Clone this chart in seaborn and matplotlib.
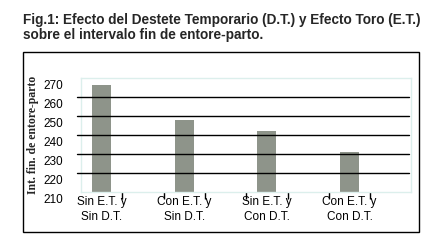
import matplotlib
matplotlib.use("Agg")
import matplotlib.pyplot as plt
import matplotlib.transforms as mtransforms
from matplotlib.patches import Rectangle
import seaborn as sns
import pandas as pd

# --- DATOS ---
categorias = ["Sin E.T. y\nSin D.T.", "Con E.T. y\nSin D.T.",
              "Sin E.T. y\nCon D.T.", "Con E.T. y\nCon D.T."]
intervalo = [266, 248, 242, 231]
y_ticks = [210, 220, 230, 240, 250, 260, 270]
grid_vals = [220, 230, 240, 250, 260]

titulo = ("Fig.1: Efecto del Destete Temporario (D.T.) y Efecto Toro (E.T.)\n"
          "sobre el intervalo fin de entore-parto.")
y_label = "Int. fin. de entore-parto"

BAR_COLOR = "#8e948a"
FRAME_COLOR = "#dcefec"

sns.set_theme(style="white")
plt.rcParams["font.family"] = ["Liberation Sans", "DejaVu Sans"]

df = pd.DataFrame({"cat": categorias, "val": intervalo})

fig = plt.figure(figsize=(4.43, 2.47), dpi=100)
fig.patch.set_facecolor("white")
ax = fig.add_axes([81 / 443, 1 - 191.7 / 247, 329.7 / 443, 114 / 247])

sns.barplot(data=df, x="cat", y="val", color=BAR_COLOR, width=0.23,
            saturation=1, ax=ax, zorder=2)
# barras desde 210 (base del eje)
for p in ax.patches:
    p.set_y(210)
    p.set_height(p.get_height() - 210)
    p.set_edgecolor("none")

ax.set_ylim(210, 270)
ax.set_xlim(-0.248, 3.74)

for g in grid_vals:
    ax.axhline(g, xmin=-0.013, xmax=0.995, color="black", lw=1.0,
               zorder=3, clip_on=False)

for s in ax.spines.values():
    s.set_color(FRAME_COLOR)
    s.set_linewidth(1.0)

ax.set_yticks(y_ticks)
ax.set_yticklabels([str(v) for v in y_ticks], fontsize=8.5, color="black")
ax.tick_params(axis="y", length=0, pad=13)
offset = mtransforms.ScaledTranslation(0, -6.5 / 100, fig.dpi_scale_trans)
for lab in ax.get_yticklabels():
    lab.set_transform(lab.get_transform() + offset)

ax.set_xticks(range(len(categorias)))
ax.set_xticklabels(categorias, fontsize=8.5, color="black", linespacing=1.4)
ax.tick_params(axis="x", which="major", length=0, pad=3)
ax.set_xticks([i + d for i in range(len(categorias)) for d in (-0.25, 0.25)][1:],
              minor=True)
ax.tick_params(axis="x", which="minor", length=5, width=1, color="black",
               direction="out", bottom=True)

ax.set_xlabel("")
ax.set_ylabel("")
fig.text(33 / 443, 1 - 135 / 247, y_label, rotation=90, ha="center",
         va="center", fontsize=8.5, fontweight="bold",
         family=["Liberation Serif", "DejaVu Serif"])

fig.text(22.7 / 443, 1 - 13 / 247, titulo, ha="left", va="top",
         fontsize=9.8, fontweight="bold", linespacing=1.12)

fig.patches.append(Rectangle((22.7 / 443, 1 - 232 / 247), (419 - 22.7) / 443,
                             (232 - 52) / 247, transform=fig.transFigure,
                             fill=False, edgecolor="black", lw=1.0))

fig.savefig("out.png", dpi=100, facecolor="white")
